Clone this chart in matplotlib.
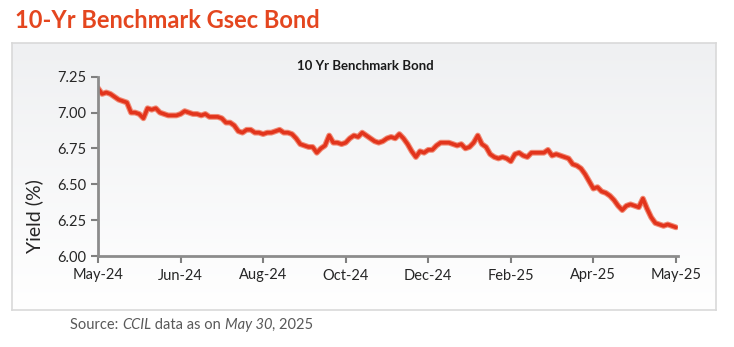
import numpy as np
import matplotlib.pyplot as plt
from matplotlib.colors import LinearSegmentedColormap

plt.rcParams['font.family'] = ['Lato', 'DejaVu Sans']

# 10Y benchmark yield, evenly spaced observations May-24 .. May-25
yield_pct = [
    7.17, 7.13, 7.14, 7.13, 7.11, 7.09, 7.08, 7.07, 7.00, 7.00,
    6.99, 6.96, 7.03, 7.02, 7.03, 7.00, 6.99, 6.98, 6.98, 6.98,
    6.99, 7.01, 7.00, 6.99, 6.99, 6.98, 6.99, 6.97, 6.97, 6.97,
    6.96, 6.93, 6.93, 6.91, 6.87, 6.86, 6.88, 6.88, 6.86, 6.86,
    6.85, 6.86, 6.86, 6.87, 6.88, 6.86, 6.86, 6.85, 6.82, 6.78,
    6.77, 6.76, 6.76, 6.72, 6.75, 6.77, 6.84, 6.79, 6.79, 6.78,
    6.79, 6.82, 6.84, 6.83, 6.86, 6.84, 6.82, 6.80, 6.79, 6.80,
    6.82, 6.83, 6.82, 6.85, 6.82, 6.78, 6.73, 6.69, 6.73, 6.72,
    6.74, 6.74, 6.77, 6.79, 6.79, 6.79, 6.78, 6.77, 6.78, 6.75,
    6.76, 6.79, 6.84, 6.78, 6.76, 6.71, 6.69, 6.68, 6.69, 6.68,
    6.66, 6.71, 6.72, 6.70, 6.69, 6.72, 6.72, 6.72, 6.72, 6.74,
    6.70, 6.71, 6.70, 6.69, 6.68, 6.64, 6.63, 6.61, 6.57, 6.52,
    6.47, 6.48, 6.45, 6.44, 6.42, 6.39, 6.35, 6.32, 6.35, 6.36,
    6.35, 6.34, 6.40, 6.33, 6.27, 6.23, 6.22, 6.21, 6.22, 6.21,
    6.20,
]
tick_labels = ['May-24', 'Jun-24', 'Aug-24', 'Oct-24', 'Dec-24',
               'Feb-25', 'Apr-25', 'May-25']
tick_step = 20
y_ticks = [6.00, 6.25, 6.50, 6.75, 7.00, 7.25]

W, H = 734, 347
fig = plt.figure(figsize=(W / 100, H / 100), dpi=100)

# panel frame with a soft grey-to-white fade
bx0, by0, bx1, by1 = 12, 43, 716, 310
bg = fig.add_axes([bx0 / W, 1 - by1 / H, (bx1 - bx0) / W, (by1 - by0) / H])
fade = LinearSegmentedColormap.from_list('fade', ['#eff0f2', '#ffffff'])
bg.imshow(np.linspace(0, 1, 256).reshape(-1, 1), cmap=fade, aspect='auto',
          extent=[0, 1, 0, 1])
bg.set_xlim(0, 1)
bg.set_ylim(0, 1)
bg.set_xticks([])
bg.set_yticks([])
for s in bg.spines.values():
    s.set_color('#d9d9d9')
    s.set_linewidth(1.2)

ax = fig.add_axes([98 / W, 1 - 256 / H, (678 - 98) / W, (256 - 76.7) / H])
ax.patch.set_alpha(0)
x = np.arange(len(yield_pct))
ax.plot(x, yield_pct, color='#f08a75', lw=4.2, solid_capstyle='round')
ax.plot(x, yield_pct, color='#e2341c', lw=2.6, solid_capstyle='round')

ax.set_xlim(0, 140.5)
ax.set_ylim(6.0, 7.25)
ax.set_yticks(y_ticks)
ax.set_yticklabels([f'{v:.2f}' for v in y_ticks])
ax.set_xticks(np.arange(len(tick_labels)) * tick_step)
ax.set_xticklabels(tick_labels)
ax.tick_params(axis='both', colors='#7f7f7f', labelcolor='#262626',
               labelsize=10.5, length=5, width=1.5, direction='out')
ax.tick_params(axis='x', pad=4)
for side in ['top', 'right']:
    ax.spines[side].set_visible(False)
for side in ['left', 'bottom']:
    ax.spines[side].set_color('#8c8c8c')
    ax.spines[side].set_linewidth(2)
ax.set_ylabel('Yield (%)', fontsize=14, color='#262626')
ax.yaxis.set_label_coords(-0.095, 0.223)

fig.text(365 / W, 1 - 66 / H, '10 Yr Benchmark Bond', ha='center', va='center',
         fontsize=9.5, fontweight='bold', color='#1a1a1a')

fig.text(15 / W, 1 - 20 / H, '10-Yr Benchmark Gsec Bond', ha='left', va='center',
         fontsize=17, fontweight='bold', color='#e4461f')

# source line, italic pieces chained one after another
parts = [('CCIL', 'italic'), (' data as on ', 'normal'),
         ('May 30', 'italic'), (', 2025', 'normal')]
prev = fig.text(70 / W, 1 - 325 / H, 'Source: ', ha='left', va='center',
                fontsize=10.5, color='#595959')
for txt, st in parts:
    prev = fig.add_artist(plt.matplotlib.text.Annotation(
        txt, xy=(1, 0), xycoords=prev, va='bottom', ha='left',
        fontsize=10.5, color='#595959', style=st))

fig.savefig('out.png', dpi=100)
